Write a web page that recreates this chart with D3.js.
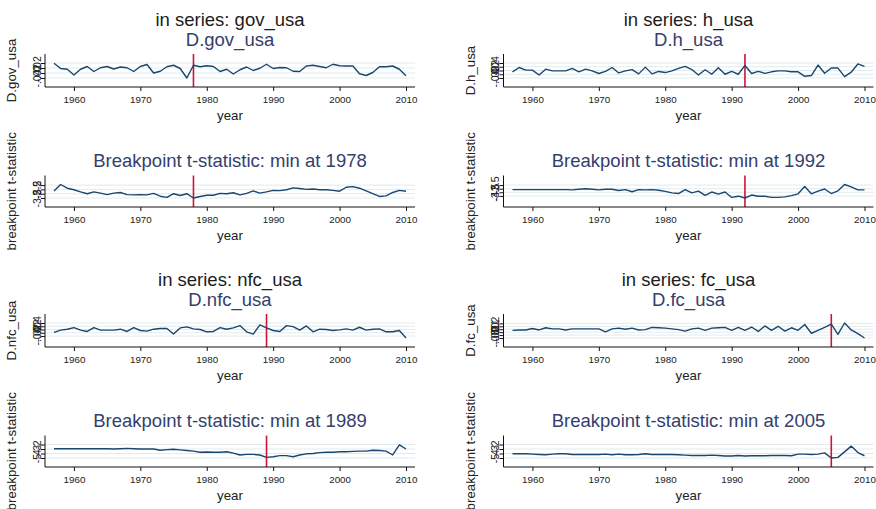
<!DOCTYPE html>
<html>
<head>
<meta charset="utf-8">
<script src="https://cdn.jsdelivr.net/npm/d3@7"></script>
<style>
  body { margin: 0; background: #fff; }
  svg { display: block; }
  text { font-family: "Liberation Sans", Arial, Helvetica, sans-serif; }
</style>
</head>
<body>
<svg id="chart" width="876" height="509"></svg>
<script>
// Annual observations
const years = d3.range(1957, 2011);
const xTicks = [1960, 1970, 1980, 1990, 2000, 2010];

const seriesNames = ["gov_usa", "h_usa", "nfc_usa", "fc_usa"];
const breakYears = [1978, 1992, 1989, 2005];

// First differences of each series
const diffGov = [.019,-.002,-.005,-.028,-.005,.006,-.014,.001,.006,-.004,
                 .004,.001,-.014,.006,.014,-.020,-.013,.005,.011,-.002,
                 -.040,.011,.005,.009,.006,-.014,-.005,-.024,-.007,.004,
                 -.010,-.001,.015,-.002,.002,.001,-.013,-.014,.008,.011,
                 .006,.001,.015,.009,.008,.008,-.023,-.030,-.018,.005,
                 .005,.008,-.005,-.031];
const diffH = [-.007,.016,.002,.002,-.024,.007,-.002,-.002,-.002,.011,
               -.007,.007,-.002,-.016,-.005,.016,-.013,-.002,.005,-.018,
               .018,-.018,-.005,-.011,-.002,.011,.022,.005,-.024,.004,
               -.020,.015,-.020,-.005,-.020,.027,-.016,-.005,-.015,-.007,
               -.002,-.002,-.007,-.007,-.031,-.027,.029,-.015,.013,.013,
               -.033,-.009,.035,.022];
const diffNfc = [-.018,-.004,.002,.012,-.004,-.012,.012,-.004,-.004,-.004,
                 .002,-.012,.012,-.006,-.010,.002,.006,.006,-.028,.010,
                 .016,.004,0,-.014,-.012,.012,.002,.010,.024,-.014,
                 -.028,.028,.010,-.006,-.012,.024,.018,-.004,.022,-.014,
                 .002,0,-.006,-.002,.004,-.004,.014,-.004,.002,.004,
                 -.014,-.014,-.006,-.052];
const diffFc = [-.0038,-.0025,-.0025,.0025,-.0025,.005,.0013,.0013,-.0025,.0013,
                .0013,.0013,.0013,.0013,-.0088,.0013,.0038,0,.0038,-.0025,
                -.0013,.0063,.005,.0038,.0013,-.0013,-.0063,.0013,.0038,-.0038,
                .0038,.005,.0063,-.0038,.0063,-.0038,.0075,-.0075,.0113,-.0038,
                .01,-.0063,.005,-.0038,.0163,-.0138,-.0038,.0063,.0175,-.0175,
                .0213,-.0025,-.015,-.03];

// Breakpoint t-statistics by candidate break year
const tGov = [-2.68,-1.93,-2.36,-2.54,-2.79,-3.0,-2.79,-2.93,-3.11,-2.93,
              -2.86,-3.11,-3.14,-3.11,-3.14,-2.96,-3.29,-3.43,-3.0,-3.21,
              -3.0,-3.5,-3.32,-3.18,-3.18,-2.96,-3.0,-2.89,-3.14,-2.96,
              -2.68,-2.93,-2.79,-2.61,-2.64,-2.54,-2.32,-2.39,-2.5,-2.46,
              -2.54,-2.54,-2.61,-2.71,-2.25,-2.18,-2.36,-2.68,-3.0,-3.32,
              -3.25,-2.86,-2.61,-2.71];
const tH = [-3.13,-3.13,-3.13,-3.13,-3.13,-3.13,-3.13,-3.13,-3.13,-3.17,
            -3.08,-3.0,-3.08,-3.17,-3.08,-3.08,-3.25,-3.13,-3.42,-3.13,
            -3.17,-3.13,-3.21,-3.38,-3.58,-3.67,-3.13,-3.58,-3.33,-3.92,
            -3.46,-3.75,-3.46,-4.21,-4.04,-4.29,-3.88,-4.04,-4.04,-4.21,
            -4.21,-4.13,-3.96,-3.71,-2.71,-3.71,-3.33,-3.04,-3.67,-3.29,
            -2.42,-2.75,-3.17,-3.17];
const tNfc = [-2.93,-2.93,-2.93,-2.93,-2.93,-2.93,-2.93,-2.93,-2.93,-3.0,
              -2.93,-2.87,-2.93,-3.0,-3.0,-3.0,-3.27,-3.13,-3.07,-3.2,
              -3.33,-3.47,-3.73,-3.67,-3.73,-3.73,-3.6,-3.93,-4.33,-4.2,
              -4.2,-4.33,-4.87,-4.73,-4.47,-4.47,-4.73,-4.33,-4.07,-4.0,
              -3.8,-3.73,-3.73,-3.6,-3.6,-3.53,-3.47,-3.47,-3.27,-3.33,
              -3.47,-4.33,-2.07,-3.0];
const tFc = [-4.07,-4.07,-4.07,-4.14,-4.21,-4.29,-4.14,-4.07,-4.07,-4.21,
             -4.21,-4.21,-4.21,-4.21,-4.14,-4.29,-4.14,-4.29,-4.29,-4.21,
             -4.07,-4.21,-4.21,-4.21,-4.21,-4.29,-4.36,-4.43,-4.43,-4.43,
             -4.36,-4.43,-4.57,-4.57,-4.43,-4.57,-4.5,-4.5,-4.5,-4.43,
             -4.43,-4.43,-4.5,-4.14,-4.14,-4.21,-4.14,-3.86,-5.0,-4.86,
             -3.64,-2.36,-3.79,-4.5];

// y-axis label values
const diffTicksGov = [-.04, -.02, 0, .02];
const diffTicksH   = [-.04, -.02, 0, .02, .04];
const diffTicksNfc = [-.04, -.02, 0, .02, .04];
const diffTicksFc  = [-.03, -.02, -.01, 0, .01, .02];
const tTicksGov = [-3.5, -3, -2.5, -2];
const tTicksH   = [-4, -3.5, -3, -2.5];
const tTicksNfc = [-5, -4, -3, -2];
const tTicksFc  = [-5, -4, -3, -2];

const panels = [
  { name: seriesNames[0], brk: breakYears[0], diff: diffGov, dT: diffTicksGov, t: tGov, tT: tTicksGov },
  { name: seriesNames[1], brk: breakYears[1], diff: diffH,   dT: diffTicksH,   t: tH,   tT: tTicksH },
  { name: seriesNames[2], brk: breakYears[2], diff: diffNfc, dT: diffTicksNfc, t: tNfc, tT: tTicksNfc },
  { name: seriesNames[3], brk: breakYears[3], diff: diffFc,  dT: diffTicksFc,  t: tFc,  tT: tTicksFc }
];

// Layout
const colX = [45, 503.5];
const rowY = [0, 260];
const plotW = 370;
const pad = 9;
const lineColor = "#1a476f";
const breakColor = "#cf1237";
const gridColor = "#e1ebee";
const titleNavy = "#34406c";

const svg = d3.select("#chart");
svg.append("rect").attr("width", 876).attr("height", 509).attr("fill", "#fff");

// Stata-style number labels: drop the leading zero
const fmt = v => String(v).replace(/^(-?)0\./, "$1.");

function subplot(g, x0, top, bottom, values, ticks, brk, title, yTitle) {
  const x = d3.scaleLinear().domain(d3.extent(years)).range([x0 + pad, x0 + plotW - pad]);
  const y = d3.scaleLinear().domain(d3.extent(values.concat(ticks))).range([bottom - pad, top + pad]);

  // title
  g.append("text").attr("x", x0 + plotW / 2).attr("y", top - 8.5)
    .attr("text-anchor", "middle").attr("font-size", 18.5).attr("fill", titleNavy).text(title);

  // gridlines
  g.append("g").selectAll("line").data(ticks).join("line")
    .attr("x1", x0).attr("x2", x0 + plotW)
    .attr("y1", d => y(d)).attr("y2", d => y(d))
    .attr("stroke", gridColor).attr("stroke-width", 1);

  // break marker
  g.append("line").attr("x1", x(brk)).attr("x2", x(brk))
    .attr("y1", top).attr("y2", bottom)
    .attr("stroke", breakColor).attr("stroke-width", 1.6);

  // series line
  g.append("path").datum(values)
    .attr("fill", "none").attr("stroke", lineColor).attr("stroke-width", 1.4)
    .attr("stroke-linejoin", "round")
    .attr("d", d3.line().x((d, i) => x(years[i])).y(d => y(d)));

  // y axis
  const ya = g.append("g").attr("transform", `translate(${x0},0)`)
    .call(d3.axisLeft(y).tickValues(ticks).tickSize(4).tickSizeOuter(0).tickFormat(fmt));
  ya.select(".domain").remove();
  ya.selectAll(".tick line").attr("stroke", "#111");
  ya.selectAll(".tick text")
    .attr("x", null).attr("dy", null).attr("text-anchor", "middle")
    .attr("transform", "translate(-4.5,0) rotate(-90)")
    .attr("font-size", 10.5).attr("fill", "#222");
  g.append("line").attr("x1", x0).attr("x2", x0).attr("y1", top).attr("y2", bottom)
    .attr("stroke", "#111").attr("stroke-width", 1);

  // x axis
  const xa = g.append("g").attr("transform", `translate(0,${bottom})`)
    .call(d3.axisBottom(x).tickValues(xTicks).tickSize(4).tickSizeOuter(0).tickFormat(d3.format("d")));
  xa.select(".domain").remove();
  xa.selectAll(".tick line").attr("stroke", "#111");
  xa.selectAll(".tick text").attr("y", 16).attr("dy", null)
    .attr("font-size", 9.8).attr("fill", "#222");
  g.append("line").attr("x1", x0).attr("x2", x0 + plotW).attr("y1", bottom).attr("y2", bottom)
    .attr("stroke", "#111").attr("stroke-width", 1);

  // axis titles
  g.append("text").attr("x", x0 + plotW / 2).attr("y", bottom + 33)
    .attr("text-anchor", "middle").attr("font-size", 13.3).attr("fill", "#222").text("year");
  g.append("text")
    .attr("transform", `translate(${x0 - 29},${(top + bottom) / 2}) rotate(-90)`)
    .attr("text-anchor", "middle").attr("font-size", 13.3).attr("fill", "#222").text(yTitle);
}

panels.forEach((p, i) => {
  const x0 = colX[i % 2];
  const y0 = rowY[Math.floor(i / 2)];
  const g = svg.append("g");

  g.append("text").attr("x", x0 + plotW / 2).attr("y", y0 + 26)
    .attr("text-anchor", "middle").attr("font-size", 18.5).attr("fill", "#1c1c1c")
    .text("in series: " + p.name);

  subplot(g, x0, y0 + 54, y0 + 87, p.diff, p.dT, p.brk, "D." + p.name, "D." + p.name);
  const minYear = years[p.t.indexOf(d3.min(p.t))];
  subplot(g, x0, y0 + 175.5, y0 + 207, p.t, p.tT, p.brk,
    "Breakpoint t-statistic: min at " + minYear, "breakpoint t-statistic");
});
</script>
</body>
</html>
